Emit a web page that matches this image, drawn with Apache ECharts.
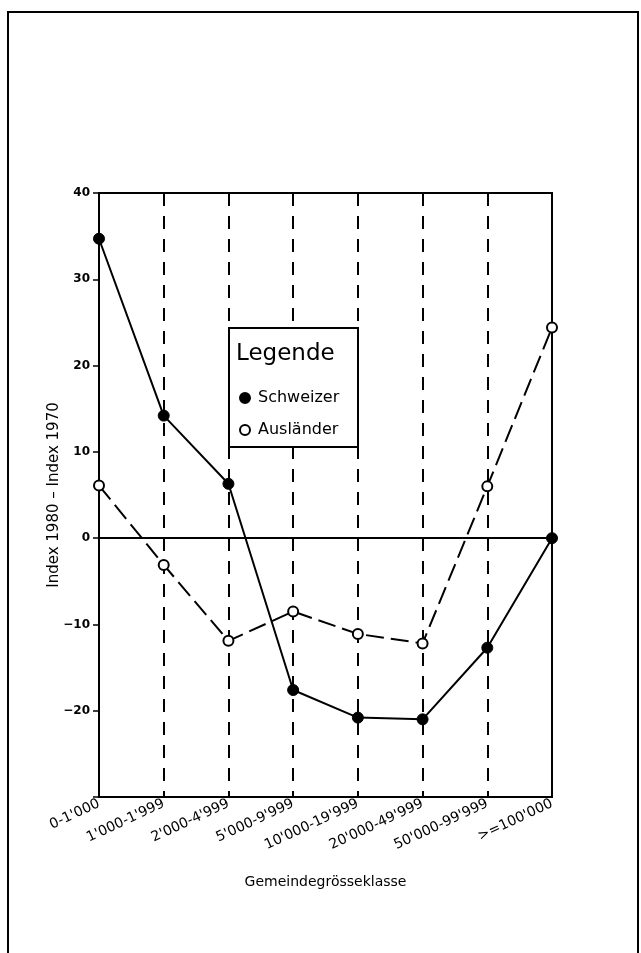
<!DOCTYPE html>
<html>
<head>
<meta charset="utf-8">
<script src="https://cdn.jsdelivr.net/npm/echarts@6/dist/echarts.min.js"></script>
<style>
html,body{margin:0;padding:0;background:#fff;}
#chart{width:641px;height:953px;}
</style>
</head>
<body>
<div id="chart"></div>
<script>
const categories = ["0-1'000", "1'000-1'999", "2'000-4'999", "5'000-9'999", "10'000-19'999", "20'000-49'999", "50'000-99'999", ">=100'000"];
const schweizer = [34.7, 14.2, 6.3, -17.6, -20.8, -21.0, -12.7, 0];
const auslaender = [6.1, -3.1, -11.9, -8.5, -11.1, -12.2, 6.0, 24.4];
const yTicks = [-30, -20, -10, 0, 10, 20, 30, 40];

const FONT = 'DejaVu Sans';
const chart = echarts.init(document.getElementById('chart'), null, {renderer: 'canvas'});

const option = {
  backgroundColor: '#fff',
  animation: false,
  grid: {left: 99, right: 89, top: 193, bottom: 156, show: true, borderColor: '#000', borderWidth: 2, backgroundColor: 'transparent'},
  xAxis: {
    type: 'category',
    data: categories,
    boundaryGap: false,
    axisLine: {lineStyle: {color: '#000', width: 2}},
    axisTick: {show: true, inside: false, length: 6, lineStyle: {color: '#000', width: 1.5}},
    axisLabel: {rotate: 25, margin: 6, color: '#000', fontFamily: FONT, fontSize: 14, interval: 0},
    splitLine: {show: true, lineStyle: {color: '#000', width: 2, type: [13, 10]}},
    name: 'Gemeindegrösseklasse',
    nameLocation: 'middle',
    nameGap: 78,
    nameMoveOverlap: false,
    nameTextStyle: {color: '#000', fontFamily: FONT, fontSize: 14}
  },
  yAxis: {
    type: 'value',
    min: yTicks[0],
    max: yTicks[yTicks.length - 1],
    interval: 10,
    axisLine: {show: true, lineStyle: {color: '#000', width: 2}},
    axisTick: {show: true, inside: false, length: 6, lineStyle: {color: '#000', width: 1.5}},
    axisLabel: {margin: 9, color: '#000', fontFamily: FONT, fontSize: 12, fontWeight: 'bold',
      formatter: v => (v === yTicks[0] ? '' : String(v).replace('-', '−'))},
    splitLine: {show: false},
    name: 'Index 1980 – Index 1970',
    nameLocation: 'middle',
    nameGap: 37,
    nameMoveOverlap: false,
    nameTextStyle: {color: '#000', fontFamily: FONT, fontSize: 15}
  },
  legend: {
    orient: 'vertical',
    left: 234,
    top: 385,
    itemWidth: 10,
    itemHeight: 10,
    itemGap: 16,
    z: 60,
    textStyle: {color: '#000', fontFamily: FONT, fontSize: 16, padding: [0, 0, 0, 3]},
    data: [{name: 'Schweizer', icon: 'circle'}, {name: 'Ausländer', icon: 'emptyCircle'}]
  },
  series: [
    {
      name: 'Schweizer',
      type: 'line',
      data: schweizer,
      symbol: 'circle',
      symbolSize: 11,
      lineStyle: {color: '#000', width: 2, type: 'solid'},
      itemStyle: {color: '#000', borderColor: '#000', borderWidth: 1},
      z: 5,
      markLine: {
        silent: true,
        symbol: 'none',
        label: {show: false},
        lineStyle: {color: '#000', width: 2, type: 'solid'},
        data: [{yAxis: 0}]
      }
    },
    {
      name: 'Ausländer',
      type: 'line',
      data: auslaender,
      symbol: 'emptyCircle',
      symbolSize: 10,
      lineStyle: {color: '#000', width: 2, type: [18, 7]},
      itemStyle: {color: '#000', borderColor: '#000', borderWidth: 2},
      z: 5
    }
  ],
  graphic: [
    {type: 'rect', z: 50, shape: {x: 229, y: 328, width: 129, height: 119}, style: {fill: '#fff', stroke: '#000', lineWidth: 2}},
    {type: 'text', z: 60, style: {x: 236, y: 354, text: 'Legende', fill: '#000', font: '23px "DejaVu Sans"', textVerticalAlign: 'middle'}},
    {type: 'polyline', z: 1, shape: {points: [[8, 953], [8, 12], [638, 12], [638, 953]]}, style: {fill: 'none', stroke: '#000', lineWidth: 2}}
  ]
};
chart.setOption(option);
</script>
</body>
</html>
